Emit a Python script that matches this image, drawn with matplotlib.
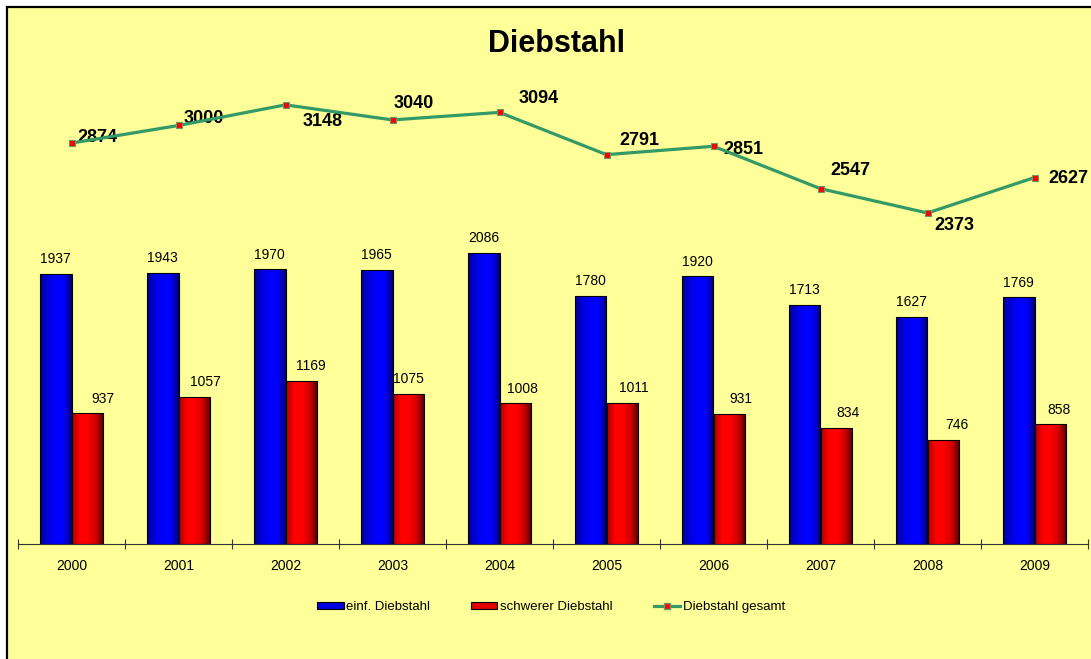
import numpy as np
import matplotlib
matplotlib.use('Agg')
import matplotlib.pyplot as plt
from matplotlib.colors import LinearSegmentedColormap
from matplotlib.patches import Rectangle
from matplotlib.lines import Line2D
from matplotlib.patches import Patch

plt.rcParams['font.family'] = ['Liberation Sans', 'DejaVu Sans']

jahre = ['2000', '2001', '2002', '2003', '2004', '2005', '2006', '2007', '2008', '2009']
einfach = [1937, 1943, 1970, 1965, 2086, 1780, 1920, 1713, 1627, 1769]
schwer = [937, 1057, 1169, 1075, 1008, 1011, 931, 834, 746, 858]
gesamt = [2874, 3000, 3148, 3040, 3094, 2791, 2851, 2547, 2373, 2627]
# label offsets (points), labels were moved by hand in the original
off_gesamt = [(4, 4), (4, 5), (12, -12), (1, 12), (14, 10), (9, 10), (7, -2), (7, 13), (5, -9), (10, -1)]
off_schwer = [11, 8, 7, 0, 5.5, 8.5, 8.5, 8.5, 9.5, 6.5]

W, H = 1091, 659
bg = '#FFFF99'
fig = plt.figure(figsize=(W/100, H/100), dpi=100)
fig.patch.set_facecolor('white')
fig.patches.append(Rectangle((6.5/W, -0.05), 1, 1.05 - 6.5/H, transform=fig.transFigure,
                             facecolor=bg, edgecolor='black', lw=1.6, zorder=-5))

ax = fig.add_axes([18/W, 1 - 544/H, 1070/W, 524/H])
ax.set_facecolor('none')

blau = LinearSegmentedColormap.from_list('b', ['#000090', '#0000E0', '#0000FF', '#0000FF', '#000070'])
rot = LinearSegmentedColormap.from_list('r', ['#B00000', '#FF0000', '#FF0000', '#D00000', '#500000'])
grad = np.linspace(0, 1, 64).reshape(1, -1)

x = np.arange(len(jahre))
bw = 0.294
for vals, dx, cm in [(einfach, -bw/2, blau), (schwer, bw/2, rot)]:
    bars = ax.bar(x + dx, vals, width=bw, facecolor='none', edgecolor='black', lw=0.8, zorder=3)
    for b in bars:
        im = ax.imshow(grad, cmap=cm, aspect='auto', zorder=2,
                       extent=[b.get_x(), b.get_x() + b.get_width(), 0, b.get_height()])
        im.set_clip_path(b)

ax.set_xlim(-0.5, 9.5)
ax.set_ylim(0, 524/0.1395)

for i in range(len(jahre)):
    ax.annotate(str(einfach[i]), (x[i] - bw/2, einfach[i]), xytext=(0, 5.5), textcoords='offset points',
                ha='center', va='bottom', fontsize=10)
    ax.annotate(str(schwer[i]), (x[i] + bw/2, schwer[i]), xytext=(off_schwer[i], 5.5), textcoords='offset points',
                ha='center', va='bottom', fontsize=10)

ax.plot(x, gesamt, color='#339966', lw=2.3, marker='s', ms=4.2, mfc='red', mec='#669966', mew=0.8, zorder=4)
for i in range(len(jahre)):
    ax.annotate(str(gesamt[i]), (x[i], gesamt[i]), xytext=off_gesamt[i], textcoords='offset points',
                ha='left', va='center', fontsize=13, fontweight='bold')

for s in ['top', 'right', 'left']:
    ax.spines[s].set_visible(False)
ax.spines['bottom'].set_color('#333333')
ax.set_yticks([])
ax.set_xticks(np.arange(-0.5, 10, 1))
ax.set_xticklabels([])
ax.tick_params(axis='x', which='major', direction='inout', length=7, color='#333333')
ax.set_xticks(x, minor=True)
ax.set_xticklabels(jahre, minor=True, fontsize=10)
ax.tick_params(axis='x', which='minor', length=0, pad=11)

fig.text(557/W, 1 - 44/H, 'Diebstahl', ha='center', va='center', fontsize=22, fontweight='bold')

handles = [Patch(facecolor='#0000E0', edgecolor='black', lw=0.8),
           Patch(facecolor='#E00000', edgecolor='black', lw=0.8),
           Line2D([], [], color='#339966', lw=2.3, marker='s', ms=4.2, mfc='red', mec='#669966')]
fig.legend(handles, ['einf. Diebstahl', 'schwerer Diebstahl', 'Diebstahl gesamt'],
           loc='center', bbox_to_anchor=(551/W, 1 - 607/H), ncol=3, frameon=False,
           fontsize=9.5, handlelength=2.0, handleheight=0.5, handletextpad=0.2, columnspacing=3.1)

fig.savefig('out.png', dpi=100, facecolor=fig.get_facecolor())
